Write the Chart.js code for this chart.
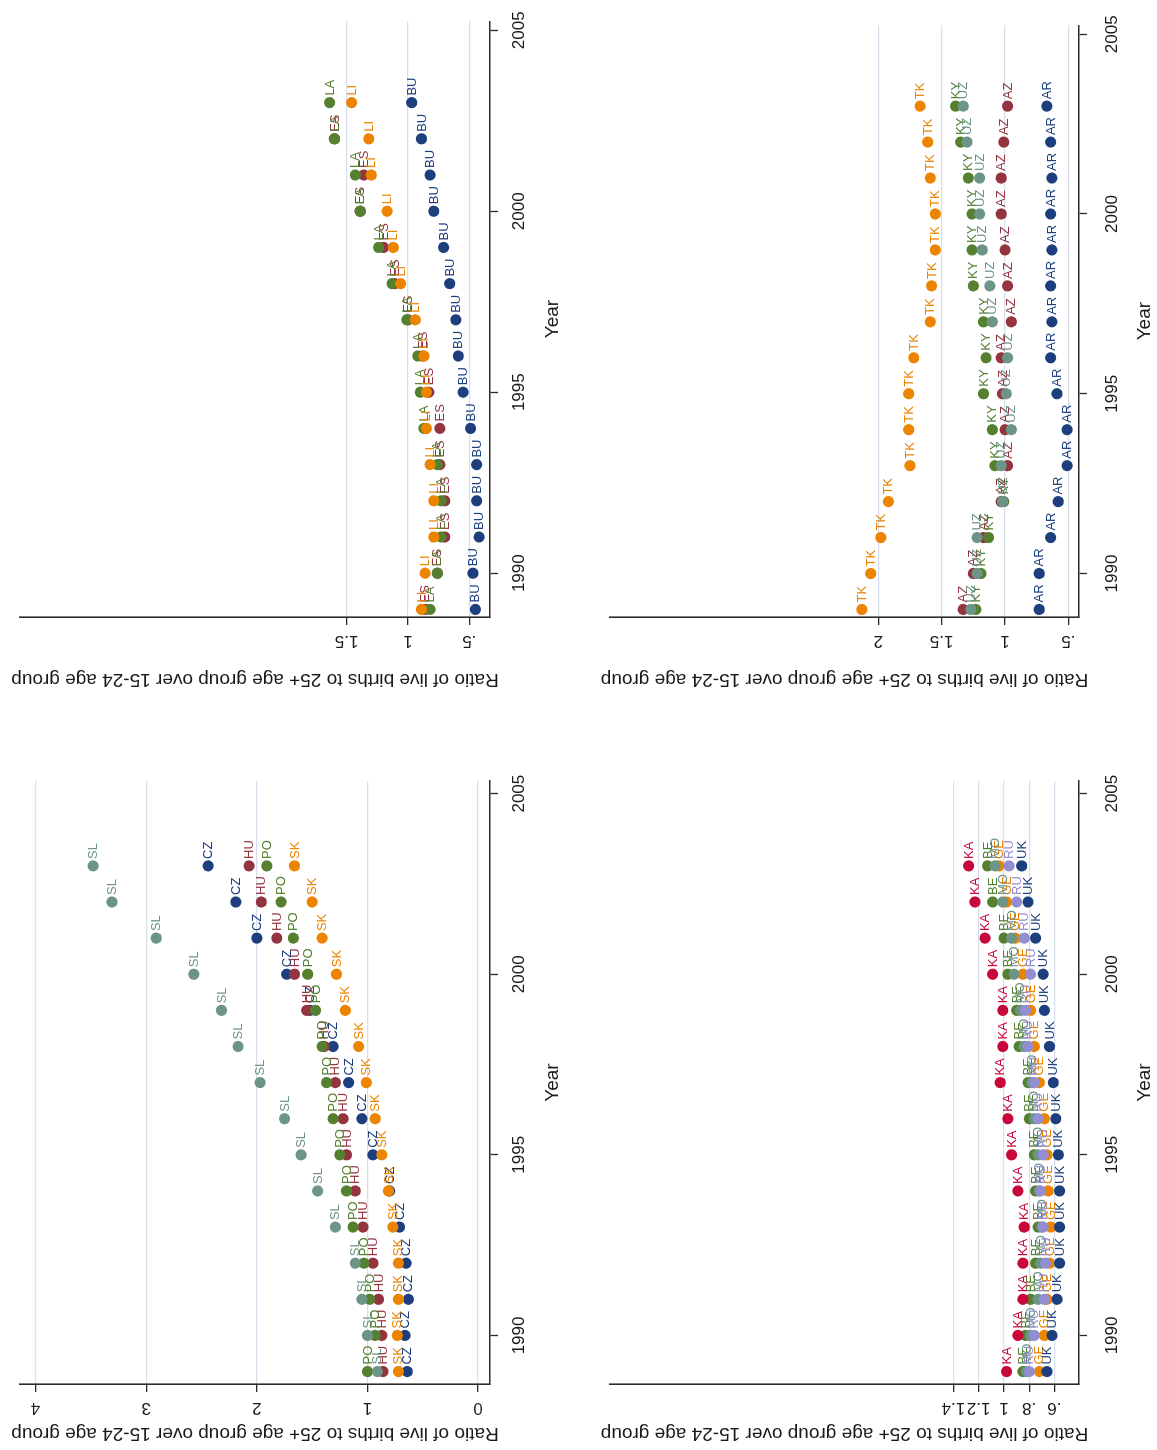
<!DOCTYPE html>
<html>
<head>
<meta charset="utf-8">
<script src="https://cdn.jsdelivr.net/npm/chart.js@4.4.1/dist/chart.umd.min.js"></script>
<style>
  html, body { margin: 0; padding: 0; background: #ffffff; }
  /* The four-panel figure is laid out landscape and turned a quarter turn counter-clockwise. */
  #figure {
    position: absolute; left: 0; top: 0;
    width: 1450px; height: 1157px;
    transform-origin: 0 0;
    transform: translate(0, 1450px) rotate(-90deg);
    background: #ffffff;
  }
  #figure canvas { position: absolute; }
</style>
</head>
<body>
<div id="figure">
  <canvas id="panelCE" width="725" height="578" style="left:0;top:0"></canvas>
  <canvas id="panelBB" width="725" height="578" style="left:725px;top:0"></canvas>
  <canvas id="panelWK" width="725" height="579" style="left:0;top:578px"></canvas>
  <canvas id="panelCA" width="725" height="579" style="left:725px;top:578px"></canvas>
</div>
<script>
// Years observed
const years = [1989, 1990, 1991, 1992, 1993, 1994, 1995, 1996, 1997, 1998, 1999, 2000, 2001, 2002, 2003];
const yearTicks = [1990, 1995, 2000, 2005];

// Central Europe
const czRatio = [0.64, 0.66, 0.63, 0.65, 0.71, 0.80, 0.95, 1.05, 1.17, 1.31, 1.52, 1.73, 2.00, 2.19, 2.44];
const huRatio = [0.86, 0.87, 0.90, 0.95, 1.04, 1.11, 1.19, 1.22, 1.29, 1.39, 1.55, 1.66, 1.82, 1.96, 2.07];
const poRatio = [1.00, 0.93, 0.98, 1.03, 1.13, 1.19, 1.25, 1.31, 1.37, 1.41, 1.47, 1.54, 1.67, 1.78, 1.91];
const skRatio = [0.72, 0.73, 0.72, 0.72, 0.77, 0.81, 0.87, 0.93, 1.01, 1.08, 1.20, 1.28, 1.41, 1.50, 1.66];
const slRatio = [0.91, 1.00, 1.05, 1.11, 1.29, 1.45, 1.60, 1.75, 1.97, 2.17, 2.32, 2.57, 2.91, 3.31, 3.48];
const ticksCE = [0, 1, 2, 3, 4];

// Bulgaria and the Baltic states
const buRatio = [0.45, 0.47, 0.42, 0.44, 0.44, 0.49, 0.55, 0.59, 0.61, 0.66, 0.71, 0.79, 0.82, 0.89, 0.97];
const esRatio = [0.86, 0.76, 0.70, 0.70, 0.74, 0.74, 0.83, 0.88, 1.00, 1.11, 1.20, 1.39, 1.36, 1.60, null];
const laRatio = [0.82, 0.76, 0.73, 0.73, 0.76, 0.87, 0.90, 0.92, 1.01, 1.13, 1.24, 1.39, 1.43, 1.60, 1.64];
const liRatio = [0.89, 0.86, 0.79, 0.79, 0.82, 0.85, 0.85, 0.87, 0.94, 1.06, 1.12, 1.17, 1.30, 1.32, 1.46];
const ticksBB = [0.5, 1, 1.5];

// Western CIS and Kazakhstan
const beRatio = [0.85, 0.83, 0.79, 0.75, 0.73, 0.75, 0.76, 0.80, 0.81, 0.88, 0.90, 0.97, 1.00, 1.09, 1.13];
const geRatio = [0.72, 0.68, 0.66, 0.64, 0.63, 0.65, 0.66, 0.68, 0.72, 0.76, 0.79, 0.85, 0.91, 0.98, 1.04];
const moRatio = [0.82, 0.79, 0.73, 0.71, 0.70, 0.72, 0.73, 0.76, 0.78, 0.84, 0.87, 0.92, 0.94, 1.01, 1.07];
const kaRatio = [0.98, 0.89, 0.85, 0.85, 0.84, 0.89, 0.94, 0.97, 1.03, 1.01, 1.01, 1.09, 1.15, 1.23, 1.28];
const ruRatio = [0.80, 0.76, 0.68, 0.67, 0.69, 0.71, 0.69, 0.73, 0.76, 0.81, 0.83, 0.79, 0.84, 0.90, 0.96];
const ukRatio = [0.66, 0.62, 0.58, 0.56, 0.56, 0.56, 0.57, 0.59, 0.61, 0.64, 0.68, 0.69, 0.75, 0.81, 0.86];
const ticksWK = [0.6, 0.8, 1, 1.2, 1.4];

// Caucasus and Central Asia
const arRatio = [0.73, 0.73, 0.64, 0.58, 0.51, 0.51, 0.59, 0.64, 0.63, 0.64, 0.63, 0.64, 0.63, 0.64, 0.67];
const azRatio = [1.33, 1.25, 1.17, 1.03, 0.98, 1.00, 1.02, 1.03, 0.95, 0.98, 1.00, 1.03, 1.03, 1.01, 0.98];
const kyRatio = [1.23, 1.19, 1.13, 1.01, 1.08, 1.10, 1.17, 1.15, 1.17, 1.25, 1.26, 1.26, 1.29, 1.35, 1.39];
const tkRatio = [2.13, 2.06, 1.98, 1.92, 1.75, 1.76, 1.76, 1.72, 1.59, 1.58, 1.55, 1.55, 1.59, 1.61, 1.67];
const uzRatio = [1.27, 1.22, 1.22, 1.02, 1.03, 0.95, 0.99, 0.98, 1.10, 1.12, 1.18, 1.20, 1.20, 1.30, 1.33];
const ticksCA = [0.5, 1, 1.5, 2];

const COLORS = {
  navy: '#1d3f7e', maroon: '#93343f', green: '#55802f', orange: '#ec8400',
  teal: '#6c9487', cranberry: '#c8073a', lavender: '#938dd2'
};
const FONT = '"Liberation Sans", Arial, Helvetica, sans-serif';
const TEXT_COLOR = '#1a1a1a';
const AXIS_COLOR = '#2b2b2b';
const GRID_COLOR = '#d6e0ec';

function series(label, values, color, index) {
  return {
    label: label,
    data: years.map((yr, i) => ({ x: yr, y: values[i] })).filter(p => p.y !== null),
    backgroundColor: color,
    borderColor: color,
    borderWidth: 0,
    pointRadius: 5.6,
    pointHoverRadius: 5.6,
    showLine: false,
    order: -index
  };
}

function fmtRatio(v) {
  return v === 0 ? '0' : String(v).replace(/^0\./, '.');
}

// Two-letter country code beside every marker, drawn with its own series
const markerLabels = {
  id: 'markerLabels',
  afterDatasetDraw(chart, args) {
    const ds = chart.data.datasets[args.index];
    const ctx = chart.ctx;
    ctx.save();
    ctx.font = '13px ' + FONT;
    ctx.fillStyle = ds.backgroundColor;
    ctx.textAlign = 'left';
    ctx.textBaseline = 'middle';
    args.meta.data.forEach(pt => ctx.fillText(ds.label, pt.x + 7, pt.y + 0.5));
    ctx.restore();
  }
};

// Ratio tick labels, set on end like the axis title
const ratioTickLabels = {
  id: 'ratioTickLabels',
  afterDraw(chart) {
    const s = chart.scales.y;
    const ctx = chart.ctx;
    const off = chart.options.plugins.ratioTickLabels.offset;
    ctx.save();
    ctx.font = '17px ' + FONT;
    ctx.fillStyle = TEXT_COLOR;
    ctx.textAlign = 'center';
    ctx.textBaseline = 'middle';
    s.ticks.forEach(t => {
      ctx.save();
      ctx.translate(s.right - off, s.getPixelForValue(t.value));
      ctx.rotate(-Math.PI / 2);
      ctx.fillText(fmtRatio(t.value), 0, 0);
      ctx.restore();
    });
    ctx.restore();
  }
};

function makePanel(id, datasets, cfg) {
  return new Chart(document.getElementById(id), {
    type: 'scatter',
    data: { datasets: datasets },
    plugins: [markerLabels, ratioTickLabels],
    options: {
      responsive: false,
      animation: false,
      events: [],
      layout: { padding: { left: 0, right: cfg.padRight, top: cfg.padTop, bottom: 0 } },
      plugins: {
        legend: { display: false },
        tooltip: { enabled: false },
        ratioTickLabels: { offset: 24 }
      },
      scales: {
        x: {
          type: 'linear',
          position: 'bottom',
          min: cfg.xMin, max: cfg.xMax,
          afterBuildTicks: s => { s.ticks = yearTicks.map(v => ({ value: v })); },
          afterFit: s => { s.height = cfg.xHeight; },
          ticks: {
            color: TEXT_COLOR, padding: cfg.xTickPad, maxRotation: 0, minRotation: 0,
            font: { family: FONT, size: 17 },
            callback: v => String(v)
          },
          grid: { drawOnChartArea: false, drawTicks: true, tickLength: 8, tickColor: AXIS_COLOR, tickWidth: 1.3 },
          border: { display: true, color: AXIS_COLOR, width: 1.6 },
          title: {
            display: true, text: 'Year', color: TEXT_COLOR,
            font: { family: FONT, size: 19 }, padding: { top: 0, bottom: cfg.xTitlePad }
          }
        },
        y: {
          type: 'linear',
          position: 'left',
          min: cfg.yMin, max: cfg.yMax,
          afterBuildTicks: s => { s.ticks = cfg.yTicks.map(v => ({ value: v })); },
          afterFit: s => { s.width = cfg.yWidth; },
          ticks: { display: false },
          grid: { color: GRID_COLOR, lineWidth: 1.3, drawTicks: true, tickLength: 8, tickColor: AXIS_COLOR, tickWidth: 1.3 },
          border: { display: true, color: AXIS_COLOR, width: 1.6 },
          title: {
            display: true, color: TEXT_COLOR,
            text: 'Ratio of live births to 25+ age group over 15-24 age group',
            font: { family: FONT, size: 19 }, padding: { top: cfg.yTitlePad, bottom: 0 }
          }
        }
      }
    }
  });
}

const leftCol = { xMin: 1988.655, xMax: 2005.35, yWidth: 66, padRight: 56, yTitlePad: 5 };
const rightCol = { xMin: 1988.79, xMax: 2005.25, yWidth: 108, padRight: 21, yTitlePad: 34 };
const topRow = { padTop: 20, xHeight: 88, xTickPad: 11, xTitlePad: 14 };
const bottomRow = { padTop: 32, xHeight: 78, xTickPad: 15, xTitlePad: 1 };

makePanel('panelCE', [
  series('CZ', czRatio, COLORS.navy, 0),
  series('HU', huRatio, COLORS.maroon, 1),
  series('PO', poRatio, COLORS.green, 2),
  series('SK', skRatio, COLORS.orange, 3),
  series('SL', slRatio, COLORS.teal, 4)
], Object.assign({}, leftCol, topRow, { yMin: -0.108, yMax: 4.141, yTicks: ticksCE }));

makePanel('panelBB', [
  series('BU', buRatio, COLORS.navy, 0),
  series('ES', esRatio, COLORS.maroon, 1),
  series('LA', laRatio, COLORS.green, 2),
  series('LI', liRatio, COLORS.orange, 3)
], Object.assign({}, rightCol, topRow, { yMin: 0.331, yMax: 4.165, yTicks: ticksBB }));

makePanel('panelWK', [
  series('BE', beRatio, COLORS.green, 0),
  series('GE', geRatio, COLORS.orange, 1),
  series('MO', moRatio, COLORS.teal, 2),
  series('KA', kaRatio, COLORS.cranberry, 3),
  series('RU', ruRatio, COLORS.lavender, 4),
  series('UK', ukRatio, COLORS.navy, 5)
], Object.assign({}, leftCol, bottomRow, { yMin: 0.406, yMax: 4.12, yTicks: ticksWK }));

makePanel('panelCA', [
  series('AR', arRatio, COLORS.navy, 0),
  series('AZ', azRatio, COLORS.maroon, 1),
  series('KY', kyRatio, COLORS.green, 2),
  series('TK', tkRatio, COLORS.orange, 3),
  series('UZ', uzRatio, COLORS.teal, 4)
], Object.assign({}, rightCol, bottomRow, { yMin: 0.416, yMax: 4.117, yTicks: ticksCA }));
</script>
</body>
</html>
